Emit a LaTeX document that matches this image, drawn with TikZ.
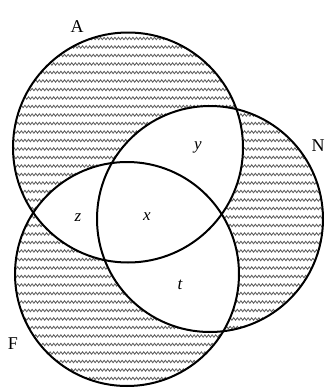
\documentclass[tikz,border=0pt]{standalone}
\usepackage{fontspec}
\setmainfont{Liberation Serif}
\usetikzlibrary{decorations.pathmorphing}
\begin{document}
\begin{tikzpicture}[x=1pt,y=-1pt,
  hatch/.style={black!62, line width=0.85pt, decorate,
    decoration={snake, segment length=3.6pt, amplitude=1.2pt}},
  ring/.style={draw=black, line width=2pt},
  setlabel/.style={font=\fontsize{18}{18}\selectfont, inner sep=0pt},
  partlabel/.style={font=\fontsize{17}{17}\selectfont\itshape, inner sep=0pt}]
\useasboundingbox (0,0) rectangle (325,388);
\coordinate (cA) at (128,147.5);
\coordinate (cN) at (210,219);
\coordinate (cF) at (127,274);
% hatching of the union
\begin{scope}
  \clip (cA) circle (115pt) (cN) circle (113pt) (cF) circle (112pt);
  \foreach \yy in {30,38.5,...,392} \draw[hatch] (-5,\yy) -- (330,\yy);
\end{scope}
% blank out overlaps
\begin{scope}
  \clip (cA) circle (115pt);
  \fill[white] (cN) circle (113pt);
  \fill[white] (cF) circle (112pt);
\end{scope}
\begin{scope}
  \clip (cN) circle (113pt);
  \fill[white] (cF) circle (112pt);
\end{scope}
% outlines
\draw[ring] (cA) circle (115pt);
\draw[ring] (cN) circle (113pt);
\draw[ring] (cF) circle (112pt);
% labels
\node[setlabel] (lA) at (77,27) {A};
\node[setlabel] (lN) at (318,146) {N};
\node[setlabel] (lF) at (13,344) {F};
\node[partlabel] (ly) at (198,147) {y};
\node[partlabel] (lz) at (78,218) {z};
\node[partlabel] (lx) at (147,217) {x};
\node[partlabel] (lt) at (180,285) {t};
\end{tikzpicture}
\end{document}
